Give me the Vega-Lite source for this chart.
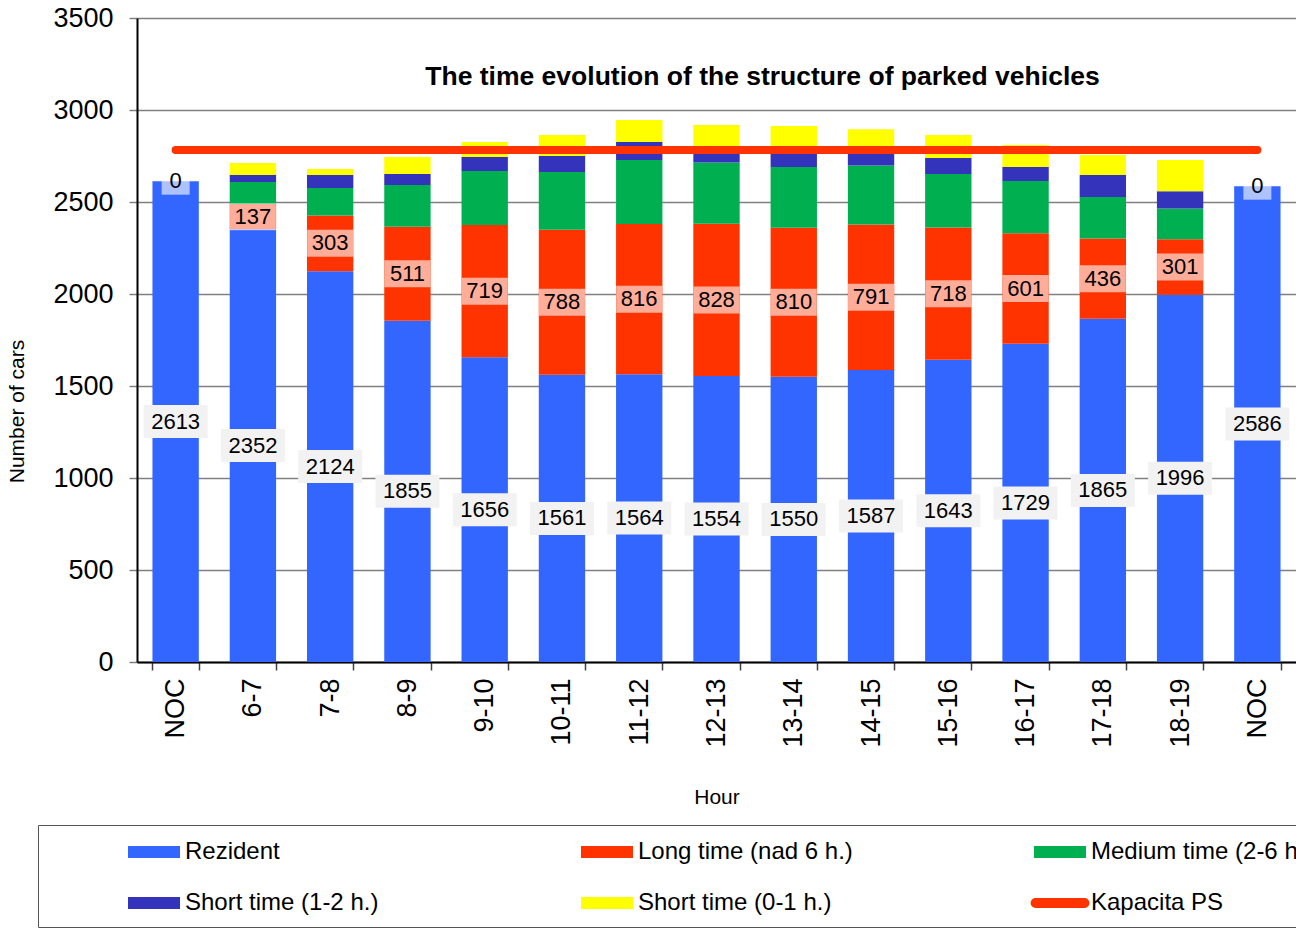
{
  "$schema": "https://vega.github.io/schema/vega-lite/v6.json",
  "autosize": {"type": "none"},
  "padding": {"left": 137, "top": 18, "right": 0, "bottom": 267},
  "width": 1159,
  "height": 644,
  "background": "white",
  "title": {"text": "The time evolution of the structure of parked vehicles", "fontSize": 26.5, "fontWeight": "bold", "font": "Liberation Sans", "color": "black", "anchor": "middle", "dx": 46, "offset": -99, "baseline": "middle"},
  "data": {"values": [
    {"kind": "bar", "h": "NOC", "s": "Rezident", "k": 1, "v": 2613},
    {"kind": "bar", "h": "NOC", "s": "Long time (nad 6 h.)", "k": 2, "v": 0},
    {"kind": "bar", "h": "6-7", "s": "Rezident", "k": 1, "v": 2352},
    {"kind": "bar", "h": "6-7", "s": "Long time (nad 6 h.)", "k": 2, "v": 137},
    {"kind": "bar", "h": "6-7", "s": "Medium time (2-6 h.)", "k": 3, "v": 120},
    {"kind": "bar", "h": "6-7", "s": "Short time (1-2 h.)", "k": 4, "v": 38},
    {"kind": "bar", "h": "6-7", "s": "Short time (0-1 h.)", "k": 5, "v": 65},
    {"kind": "bar", "h": "7-8", "s": "Rezident", "k": 1, "v": 2124},
    {"kind": "bar", "h": "7-8", "s": "Long time (nad 6 h.)", "k": 2, "v": 303},
    {"kind": "bar", "h": "7-8", "s": "Medium time (2-6 h.)", "k": 3, "v": 149},
    {"kind": "bar", "h": "7-8", "s": "Short time (1-2 h.)", "k": 4, "v": 71},
    {"kind": "bar", "h": "7-8", "s": "Short time (0-1 h.)", "k": 5, "v": 32},
    {"kind": "bar", "h": "8-9", "s": "Rezident", "k": 1, "v": 1855},
    {"kind": "bar", "h": "8-9", "s": "Long time (nad 6 h.)", "k": 2, "v": 511},
    {"kind": "bar", "h": "8-9", "s": "Medium time (2-6 h.)", "k": 3, "v": 226},
    {"kind": "bar", "h": "8-9", "s": "Short time (1-2 h.)", "k": 4, "v": 60},
    {"kind": "bar", "h": "8-9", "s": "Short time (0-1 h.)", "k": 5, "v": 93},
    {"kind": "bar", "h": "9-10", "s": "Rezident", "k": 1, "v": 1656},
    {"kind": "bar", "h": "9-10", "s": "Long time (nad 6 h.)", "k": 2, "v": 719},
    {"kind": "bar", "h": "9-10", "s": "Medium time (2-6 h.)", "k": 3, "v": 293},
    {"kind": "bar", "h": "9-10", "s": "Short time (1-2 h.)", "k": 4, "v": 77},
    {"kind": "bar", "h": "9-10", "s": "Short time (0-1 h.)", "k": 5, "v": 81},
    {"kind": "bar", "h": "10-11", "s": "Rezident", "k": 1, "v": 1561},
    {"kind": "bar", "h": "10-11", "s": "Long time (nad 6 h.)", "k": 2, "v": 788},
    {"kind": "bar", "h": "10-11", "s": "Medium time (2-6 h.)", "k": 3, "v": 314},
    {"kind": "bar", "h": "10-11", "s": "Short time (1-2 h.)", "k": 4, "v": 87},
    {"kind": "bar", "h": "10-11", "s": "Short time (0-1 h.)", "k": 5, "v": 114},
    {"kind": "bar", "h": "11-12", "s": "Rezident", "k": 1, "v": 1564},
    {"kind": "bar", "h": "11-12", "s": "Long time (nad 6 h.)", "k": 2, "v": 816},
    {"kind": "bar", "h": "11-12", "s": "Medium time (2-6 h.)", "k": 3, "v": 348},
    {"kind": "bar", "h": "11-12", "s": "Short time (1-2 h.)", "k": 4, "v": 98},
    {"kind": "bar", "h": "11-12", "s": "Short time (0-1 h.)", "k": 5, "v": 120},
    {"kind": "bar", "h": "12-13", "s": "Rezident", "k": 1, "v": 1554},
    {"kind": "bar", "h": "12-13", "s": "Long time (nad 6 h.)", "k": 2, "v": 828},
    {"kind": "bar", "h": "12-13", "s": "Medium time (2-6 h.)", "k": 3, "v": 332},
    {"kind": "bar", "h": "12-13", "s": "Short time (1-2 h.)", "k": 4, "v": 79},
    {"kind": "bar", "h": "12-13", "s": "Short time (0-1 h.)", "k": 5, "v": 125},
    {"kind": "bar", "h": "13-14", "s": "Rezident", "k": 1, "v": 1550},
    {"kind": "bar", "h": "13-14", "s": "Long time (nad 6 h.)", "k": 2, "v": 810},
    {"kind": "bar", "h": "13-14", "s": "Medium time (2-6 h.)", "k": 3, "v": 330},
    {"kind": "bar", "h": "13-14", "s": "Short time (1-2 h.)", "k": 4, "v": 105},
    {"kind": "bar", "h": "13-14", "s": "Short time (0-1 h.)", "k": 5, "v": 118},
    {"kind": "bar", "h": "14-15", "s": "Rezident", "k": 1, "v": 1587},
    {"kind": "bar", "h": "14-15", "s": "Long time (nad 6 h.)", "k": 2, "v": 791},
    {"kind": "bar", "h": "14-15", "s": "Medium time (2-6 h.)", "k": 3, "v": 321},
    {"kind": "bar", "h": "14-15", "s": "Short time (1-2 h.)", "k": 4, "v": 86},
    {"kind": "bar", "h": "14-15", "s": "Short time (0-1 h.)", "k": 5, "v": 110},
    {"kind": "bar", "h": "15-16", "s": "Rezident", "k": 1, "v": 1643},
    {"kind": "bar", "h": "15-16", "s": "Long time (nad 6 h.)", "k": 2, "v": 718},
    {"kind": "bar", "h": "15-16", "s": "Medium time (2-6 h.)", "k": 3, "v": 291},
    {"kind": "bar", "h": "15-16", "s": "Short time (1-2 h.)", "k": 4, "v": 87},
    {"kind": "bar", "h": "15-16", "s": "Short time (0-1 h.)", "k": 5, "v": 125},
    {"kind": "bar", "h": "16-17", "s": "Rezident", "k": 1, "v": 1729},
    {"kind": "bar", "h": "16-17", "s": "Long time (nad 6 h.)", "k": 2, "v": 601},
    {"kind": "bar", "h": "16-17", "s": "Medium time (2-6 h.)", "k": 3, "v": 284},
    {"kind": "bar", "h": "16-17", "s": "Short time (1-2 h.)", "k": 4, "v": 76},
    {"kind": "bar", "h": "16-17", "s": "Short time (0-1 h.)", "k": 5, "v": 120},
    {"kind": "bar", "h": "17-18", "s": "Rezident", "k": 1, "v": 1865},
    {"kind": "bar", "h": "17-18", "s": "Long time (nad 6 h.)", "k": 2, "v": 436},
    {"kind": "bar", "h": "17-18", "s": "Medium time (2-6 h.)", "k": 3, "v": 226},
    {"kind": "bar", "h": "17-18", "s": "Short time (1-2 h.)", "k": 4, "v": 120},
    {"kind": "bar", "h": "17-18", "s": "Short time (0-1 h.)", "k": 5, "v": 108},
    {"kind": "bar", "h": "18-19", "s": "Rezident", "k": 1, "v": 1996},
    {"kind": "bar", "h": "18-19", "s": "Long time (nad 6 h.)", "k": 2, "v": 301},
    {"kind": "bar", "h": "18-19", "s": "Medium time (2-6 h.)", "k": 3, "v": 167},
    {"kind": "bar", "h": "18-19", "s": "Short time (1-2 h.)", "k": 4, "v": 94},
    {"kind": "bar", "h": "18-19", "s": "Short time (0-1 h.)", "k": 5, "v": 170},
    {"kind": "bar", "h": "NOC2", "s": "Rezident", "k": 1, "v": 2586},
    {"kind": "bar", "h": "NOC2", "s": "Long time (nad 6 h.)", "k": 2, "v": 0},
    {"kind": "cap", "h": "NOC", "s": "Kapacita PS", "k": 6, "v": 2783},
    {"kind": "cap", "h": "NOC2", "s": "Kapacita PS", "k": 6, "v": 2783}
  ]},
  "encoding": {
    "x": {
      "field": "h", "type": "nominal", "sort": null,
      "scale": {"paddingInner": 0.4, "paddingOuter": 0.2},
      "axis": {
        "title": "Hour", "labelAngle": -90, "labelFontSize": 27, "labelPadding": 8, "labelColor": "black",
        "labelExpr": "datum.value == 'NOC2' ? 'NOC' : datum.value",
        "tickBand": "extent", "tickSize": 8, "tickColor": "#404040", "tickWidth": 1.5,
        "domainColor": "black", "domainWidth": 2,
        "titleFontSize": 21, "titleFontWeight": "normal", "titleColor": "black", "titlePadding": 39
      }
    }
  },
  "layer": [
    {
      "transform": [{"filter": "datum.kind == 'bar'"}],
      "mark": {"type": "bar", "opacity": 1},
      "encoding": {
        "y": {
          "field": "v", "type": "quantitative", "stack": "zero",
          "scale": {"domain": [0, 3500], "nice": false, "zero": true},
          "axis": {
            "title": "Number of cars", "values": [0, 500, 1000, 1500, 2000, 2500, 3000, 3500], "format": "d",
            "labelFontSize": 27, "labelPadding": 16, "labelColor": "black",
            "tickSize": 8, "tickColor": "#808080", "tickWidth": 1.5,
            "domainColor": "black", "domainWidth": 2,
            "grid": true, "gridColor": "#808080", "gridWidth": 1.5,
            "titleFontSize": 21, "titleFontWeight": "normal", "titleColor": "black",
            "titleX": -120, "titleY": 393, "titleAngle": -90, "titleBaseline": "middle", "titleAlign": "center"
          }
        },
        "order": {"field": "k", "type": "quantitative"},
        "color": {
          "field": "s", "type": "nominal",
          "scale": {
            "domain": ["Rezident", "Long time (nad 6 h.)", "Medium time (2-6 h.)", "Short time (1-2 h.)", "Short time (0-1 h.)", "Kapacita PS"],
            "range": ["#3366FF", "#FF3300", "#00B050", "#3333BB", "#FFFF00", "#FF3300"]
          },
          "legend": {
            "orient": "none", "legendX": -99, "legendY": 807, "direction": "horizontal",
            "columns": 3, "gridAlign": "all", "columnPadding": 85, "rowPadding": 13,
            "padding": 1, "strokeColor": "#555555", "fillColor": "white",
            "title": " ", "titleOrient": "bottom", "titleFontSize": 2, "titlePadding": 9,
            "symbolSize": 2704, "symbolOffset": 89, "labelOffset": 5,
            "symbolStrokeWidth": 0, "symbolOpacity": 1,
            "labelFontSize": 24, "labelColor": "black", "labelLimit": 500, "labelFont": "Liberation Sans",
            "encode": {
              "symbols": {
                "update": {
                  "fill": {"scale": "color", "field": "value"},
                  "stroke": {"value": "transparent"},
                  "opacity": {"value": 1},
                  "shape": {"signal": "datum.value == 'Kapacita PS' ? 'M-0.94,-0.19H0.94A0.19,0.19,0,0,1,0.94,0.19H-0.94A0.19,0.19,0,0,1,-0.94,-0.19Z' : 'M-1,-0.23H1V0.23H-1Z'"}
                }
              }
            }
          }
        }
      }
    },
    {
      "transform": [{"filter": "datum.kind == 'cap'"}],
      "mark": {"type": "line", "strokeWidth": 8, "strokeCap": "round"},
      "encoding": {
        "y": {"field": "v", "type": "quantitative"},
        "color": {"field": "s", "type": "nominal"}
      }
    },
    {
      "transform": [
        {"filter": "datum.kind == 'bar'"},
        {"stack": "v", "groupby": ["h"], "sort": [{"field": "k", "order": "ascending"}], "as": ["y0", "y1"]},
        {"filter": "datum.k <= 2"},
        {"fold": ["y0", "y1"], "as": ["edge", "yy"]},
        {"aggregate": [{"op": "mean", "field": "yy", "as": "ym"}, {"op": "max", "field": "v", "as": "v"}], "groupby": ["h", "k"]}
      ],
      "layer": [
        {
          "mark": {"type": "point", "filled": true, "size": 4, "strokeWidth": 0},
          "encoding": {
            "y": {"field": "ym", "type": "quantitative"},
            "shape": {
              "condition": [
                {"test": "datum.k == 1", "value": "M-32,-16.5H32V16.5H-32Z"},
                {"test": "datum.v == 0", "value": "M-14,-13.5H14V13.5H-14Z"}
              ],
              "value": "M-23,-13.5H23V13.5H-23Z"
            },
            "fill": {"condition": {"test": "datum.k == 1", "value": "#F2F2F2"}, "value": "white"},
            "opacity": {"condition": {"test": "datum.k == 1", "value": 1}, "value": 0.6}
          }
        },
        {
          "mark": {"type": "text", "fontSize": 22, "font": "Liberation Sans", "color": "black", "baseline": "middle", "align": "center"},
          "encoding": {
            "y": {"field": "ym", "type": "quantitative"},
            "text": {"field": "v", "type": "quantitative"}
          }
        }
      ]
    }
  ],
  "config": {
    "font": "Liberation Sans",
    "view": {"stroke": null}
  }
}
